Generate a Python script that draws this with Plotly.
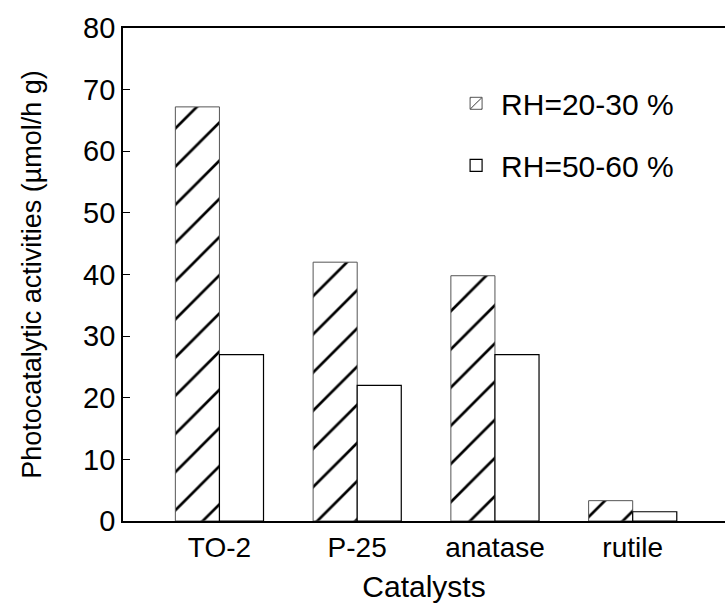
import plotly.graph_objects as go

categories = ["TO-2", "P-25", "anatase", "rutile"]
rh_low = [67.2, 42.0, 39.8, 3.3]
rh_high = [27.0, 22.0, 27.0, 1.5]
series_names = ["RH=20-30 %", "RH=50-60 %"]
y_ticks = [0, 10, 20, 30, 40, 50, 60, 70, 80]

FONT = "Liberation Sans, Arial, Helvetica, sans-serif"

fig = go.Figure()
fig.add_trace(go.Bar(
    x=categories, y=rh_low, name=series_names[0], legendgroup="a",
    marker=dict(color="white",
                line=dict(color="#555", width=1),
                pattern=dict(shape="/", fgcolor="#000000", bgcolor="white",
                             fgopacity=1, size=27, solidity=0.1)),
))
fig.add_trace(go.Bar(
    x=categories, y=rh_high, name=series_names[1], legendgroup="b",
    marker=dict(color="white", line=dict(color="black", width=1.2)),
))

fig.update_layout(
    width=725, height=609,
    margin=dict(l=123, r=0, t=28, b=88),
    plot_bgcolor="white", paper_bgcolor="white",
    barmode="group", bargap=0.36, bargroupgap=0,
    font=dict(family=FONT, color="black"),
    showlegend=True,
    legend=dict(x=0.545, y=0.9, xanchor="left", yanchor="top",
                font=dict(size=30, family=FONT, color="black"),
                bgcolor="rgba(0,0,0,0)", itemwidth=40, tracegroupgap=20,
                traceorder="grouped"),
    xaxis=dict(
        range=[-0.7, 3.67], showline=True, linecolor="black", linewidth=1.8,
        mirror=True, ticks="", showgrid=False, zeroline=False,
        tickfont=dict(size=28, family=FONT),
        title=dict(text="Catalysts", font=dict(size=30, family=FONT), standoff=14),
    ),
    yaxis=dict(
        range=[0, 80], tickvals=y_ticks, ticks="inside", ticklen=7,
        tickcolor="black", showline=True, linecolor="black", linewidth=1.8,
        showgrid=False, zeroline=False,
        tickfont=dict(size=29, family=FONT),
        title=dict(text="Photocatalytic activities (µmol/h g)",
                   font=dict(size=27, family=FONT), standoff=34),
    ),
)

fig.write_html("out.html")
